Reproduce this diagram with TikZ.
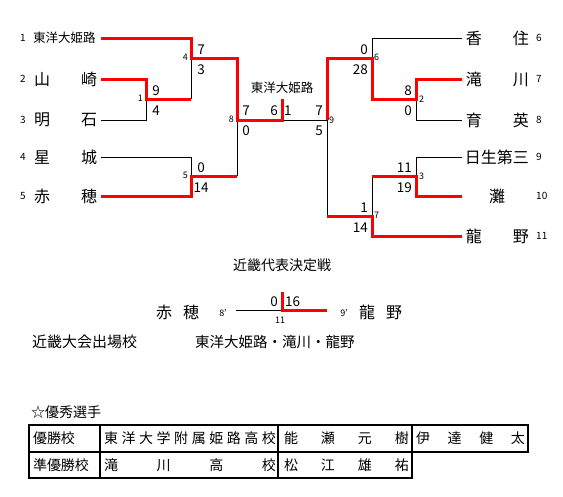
\documentclass[tikz,border=0pt]{standalone}
\usepackage{fontspec}
\setmainfont{Noto Sans CJK JP}
\usetikzlibrary{calc,positioning}
\usepackage{xcolor}
\definecolor{winColor}{RGB}{255,0,0}
\definecolor{loseColor}{RGB}{0,0,0}
\newcommand{\namefont}{\fontsize{16}{18}\selectfont}
\newcommand{\smallnamefont}{\fontsize{12.5}{14}\selectfont}
\newcommand{\scorefont}{\fontsize{13.5}{15}\selectfont}
\newcommand{\tinyfont}{\fontsize{9}{10}\selectfont}
\newcommand{\seedfont}{\fontsize{10}{12}\selectfont}
\newcommand{\tablefont}{\fontsize{14}{16}\selectfont}
\newcommand{\spreadtext}[2]{\hbox to #1{#2}}

\begin{document}
\begin{tikzpicture}[
    x=1pt, y=-1pt,
    team/.style={inner sep=0, font=\namefont},
    seed/.style={inner sep=0, font=\seedfont},
    score/.style={inner sep=0, font=\scorefont},
    matchno/.style={inner sep=0, font=\tinyfont},
    lose/.style={line width=1pt, loseColor},
    win/.style={line width=3pt, winColor, line join=miter},
    cell/.style={draw, line width=2pt, inner sep=0, anchor=north west, minimum height=26.5pt, font=\tablefont}
  ]
  \fill[white] (0,0) rectangle (563,496);
  \useasboundingbox (0,0) rectangle (563,496);

  % line ends of the teams
  \coordinate (t1) at (101,38);
  \coordinate (t2) at (101,79);
  \coordinate (t3) at (101,120);
  \coordinate (t4) at (101,157);
  \coordinate (t5) at (101,196);
  \coordinate (t6) at (462,38);
  \coordinate (t7) at (462,79);
  \coordinate (t8) at (462,120);
  \coordinate (t9) at (462,157);
  \coordinate (t10) at (462,196);
  \coordinate (t11) at (462,236);
  % match points
  \coordinate (m1) at (146,99);
  \coordinate (m4) at (191,58);
  \coordinate (m5) at (191,176);
  \coordinate (m8) at (237,120);
  \coordinate (m6) at (372,58);
  \coordinate (m2) at (416,99);
  \coordinate (m3) at (416,176);
  \coordinate (m7) at (372,216);
  \coordinate (m9) at (327,120);
  \coordinate (fc) at (282,120);
  \coordinate (ftop) at (282,99);

  % losers
  \draw[lose] (t3) -| (m1);
  \draw[lose] (m1 -| m4) -- (m4);
  \draw[lose] (t4) -| (m5);
  \draw[lose] (m5 -| m8) -- (m8);
  \draw[lose] (fc) -- (m9);
  \draw[lose] (t6) -| (m6);
  \draw[lose] (t8) -| (m2);
  \draw[lose] (t9) -| (m3);
  \draw[lose] (m3 -| m7) -- (m7);
  \draw[lose] (m7 -| m9) -- (m9);

  % winners
  \draw[win] (t2) -| (m1) -- (m1 -| m4);
  \draw[win] (t1) -| (m4) -- (m4 -| m8) -- (m8) -- (fc) -- (ftop);
  \draw[win] (t5) -| (m5) -- (m5 -| m8);
  \draw[win] (t7) -| (m2) -- (m2 -| m6) -- (m6) -- (m6 -| m9) -- (m9);
  \draw[win] (t10) -| (m3) -- (m3 -| m7);
  \draw[win] (t11) -| (m7) -- (m7 -| m9);

  % left teams
  \node[seed] (s1) at (23,38) {1};
  \node[seed] (s2) at (23,79) {2};
  \node[seed] (s3) at (23,120) {3};
  \node[seed] (s4) at (23,157) {4};
  \node[seed] (s5) at (23,196) {5};
  \node[team, font=\smallnamefont, anchor=west] (n1) at (33,38) {東洋大姫路};
  \node[team, anchor=west] (n2) at (34,79) {\spreadtext{63pt}{山\hfill 崎}};
  \node[team, anchor=west] (n3) at (34,120) {\spreadtext{63pt}{明\hfill 石}};
  \node[team, anchor=west] (n4) at (34,157) {\spreadtext{63pt}{星\hfill 城}};
  \node[team, anchor=west] (n5) at (34,196) {\spreadtext{63pt}{赤\hfill 穂}};

  % right teams
  \node[team, anchor=east] (n6) at (529,38) {\spreadtext{63pt}{香\hfill 住}};
  \node[team, anchor=east] (n7) at (529,79) {\spreadtext{63pt}{滝\hfill 川}};
  \node[team, anchor=east] (n8) at (529,120) {\spreadtext{63pt}{育\hfill 英}};
  \node[team, anchor=east] (n9) at (529,157) {日生第三};
  \node[team] (n10) at (497,196) {灘};
  \node[team, anchor=east] (n11) at (529,236) {\spreadtext{63pt}{龍\hfill 野}};
  \node[seed, anchor=west] (s6) at (536,38) {6};
  \node[seed, anchor=west] (s7) at (536,79) {7};
  \node[seed, anchor=west] (s8) at (536,120) {8};
  \node[seed, anchor=west] (s9) at (536,157) {9};
  \node[seed, anchor=west] (s10) at (536,196) {10};
  \node[seed, anchor=west] (s11) at (536,236) {11};

  % scores
  \node[score] (sc1a) at (156,91) {9};
  \node[score] (sc1b) at (156,111) {4};
  \node[score] (sc4a) at (201,50) {7};
  \node[score] (sc4b) at (201,70) {3};
  \node[score] (sc5a) at (201,168) {0};
  \node[score] (sc5b) at (201,188) {14};
  \node[score] (sc8a) at (246,111) {7};
  \node[score] (sc8b) at (246,131) {0};
  \node[score, anchor=east] (sc6a) at (368,50) {0};
  \node[score, anchor=east] (sc6b) at (368,70) {28};
  \node[score, anchor=east] (sc2a) at (412,91) {8};
  \node[score, anchor=east] (sc2b) at (412,111) {0};
  \node[score, anchor=east] (sc3a) at (412,168) {11};
  \node[score, anchor=east] (sc3b) at (412,188) {19};
  \node[score, anchor=east] (sc7a) at (368,208) {1};
  \node[score, anchor=east] (sc7b) at (368,228) {14};
  \node[score, anchor=east] (sc9a) at (323,111) {7};
  \node[score, anchor=east] (sc9b) at (323,131) {5};
  \node[score, anchor=east] (scfa) at (278,111) {6};
  \node[score, anchor=west] (scfb) at (284,111) {1};
  \node[team, font=\smallnamefont] (champ) at (282,88) {東洋大姫路};

  % match numbers
  \node[matchno, anchor=east] (mn1) at (143,98) {1};
  \node[matchno, anchor=east] (mn4) at (188,57) {4};
  \node[matchno, anchor=east] (mn5) at (188,175) {5};
  \node[matchno, anchor=east] (mn8) at (234,119) {8};
  \node[matchno, anchor=west] (mn6) at (374,57) {6};
  \node[matchno, anchor=west] (mn2) at (419,99) {2};
  \node[matchno, anchor=west] (mn3) at (419,176) {3};
  \node[matchno, anchor=west] (mn7) at (374,215) {7};
  \node[matchno, anchor=west] (mn9) at (329,120) {9};

  % kinki playoff
  \node[team, font=\tablefont] (playoff) at (282,265) {近畿代表決定戦};
  \coordinate (pl) at (236,310);
  \coordinate (pm) at (282,310);
  \coordinate (pr) at (327,310);
  \coordinate (ptop) at (282,292);
  \draw[lose] (pl) -- (pm);
  \draw[win] (ptop) -- (pm) -- (pr);
  \node[team, anchor=west] (pn1) at (156,312) {\spreadtext{43pt}{赤\hfill 穂}};
  \node[matchno] (ps1) at (223,313) {8'};
  \node[team, anchor=west] (pn2) at (359,312) {\spreadtext{43pt}{龍\hfill 野}};
  \node[matchno] (ps2) at (344,313) {9'};
  \node[score, anchor=east] (psa) at (278,302) {0};
  \node[score, anchor=west] (psb) at (285,302) {16};
  \node[matchno] (pno) at (280,320) {11};

  % qualifiers
  \node[team, font=\fontsize{15}{17}\selectfont, anchor=west] (qual) at (32,342) {近畿大会出場校};
  \node[team, font=\fontsize{14.5}{16}\selectfont, anchor=west] (quallist) at (195,342) {東洋大姫路・滝川・龍野};

  % players table
  \node[team, font=\tablefont, anchor=west] (mvp) at (31,412) {☆優秀選手};
  \node[cell, minimum width=71pt] (c11) at (28,424) {\spreadtext{71pt}{\hspace{4pt}優勝校\hfill}};
  \node[cell, minimum width=178pt] (c12) at (99,424) {\spreadtext{178pt}{\hspace{4pt}東\hfill 洋\hfill 大\hfill 学\hfill 附\hfill 属\hfill 姫\hfill 路\hfill 高\hfill 校\hspace{2pt}}};
  \node[cell, minimum width=134pt] (c13) at (277,424) {\spreadtext{134pt}{\hspace{6pt}能\hfill 瀬\hfill 元\hfill 樹\hspace{3pt}}};
  \node[cell, minimum width=116pt] (c14) at (411,424) {\spreadtext{116pt}{\hspace{4pt}伊\hfill 達\hfill 健\hfill 太\hspace{3pt}}};
  \node[cell, minimum width=71pt] (c21) at (28,450.5) {\spreadtext{71pt}{\hspace{4pt}準優勝校\hfill}};
  \node[cell, minimum width=178pt] (c22) at (99,450.5) {\spreadtext{178pt}{\hspace{4pt}滝\hfill 川\hfill 高\hfill 校\hspace{2pt}}};
  \node[cell, minimum width=134pt] (c23) at (277,450.5) {\spreadtext{134pt}{\hspace{6pt}松\hfill 江\hfill 雄\hfill 祐\hspace{3pt}}};
\end{tikzpicture}
\end{document}
